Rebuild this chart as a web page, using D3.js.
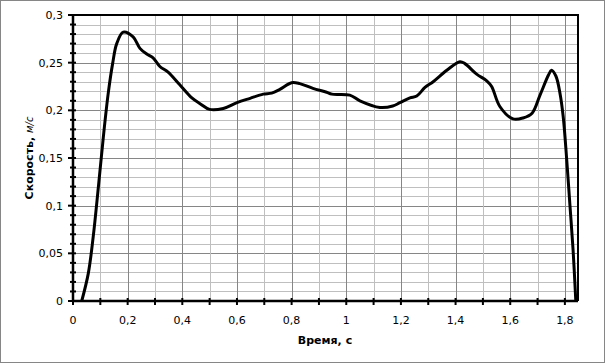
<!DOCTYPE html>
<html>
<head>
<meta charset="utf-8">
<script src="https://cdn.jsdelivr.net/npm/d3@7"></script>
<style>
  body { margin: 0; background: #fff; }
  text { font-family: "DejaVu Sans", Verdana, sans-serif; font-size: 11px; fill: #000; }
</style>
</head>
<body>
<svg id="chart" width="605" height="363"></svg>
<script>
// time, s
const times = [0.032, 0.056, 0.074, 0.093, 0.111, 0.129, 0.145, 0.16, 0.184, 0.22, 0.245, 0.27, 0.293, 0.318,
  0.348, 0.39, 0.435, 0.465, 0.5, 0.55, 0.6, 0.648, 0.696, 0.727, 0.757, 0.8, 0.83, 0.878, 0.928, 0.947,
  1.013, 1.05, 1.123, 1.17, 1.196, 1.233, 1.258, 1.288, 1.318, 1.368, 1.416, 1.434, 1.477, 1.514, 1.532,
  1.562, 1.61, 1.647, 1.68, 1.709, 1.74, 1.751, 1.767, 1.782, 1.794, 1.806, 1.818, 1.83, 1.84];
// speed, m/s
const speeds = [0, 0.029, 0.0675, 0.12, 0.172, 0.218, 0.249, 0.27, 0.282, 0.277, 0.265, 0.259, 0.255, 0.246,
  0.24, 0.227, 0.213, 0.207, 0.201, 0.202, 0.208, 0.2126, 0.217, 0.218, 0.222, 0.229, 0.228, 0.223, 0.219, 0.217,
  0.216, 0.21, 0.203, 0.2045, 0.208, 0.213, 0.215, 0.224, 0.23, 0.242, 0.251, 0.249, 0.238, 0.231, 0.225,
  0.204, 0.191, 0.192, 0.197, 0.216, 0.237, 0.242, 0.236, 0.218, 0.193, 0.151, 0.1025, 0.0535, 0];

const xTicks = [0, 0.2, 0.4, 0.6, 0.8, 1, 1.2, 1.4, 1.6, 1.8];
const yTicks = [0, 0.05, 0.1, 0.15, 0.2, 0.25, 0.3];

const data = times.map((t, i) => ({ t, v: speeds[i] }));

const svg = d3.select("#chart");
const plotL = 73, plotR = 578, plotT = 15, plotB = 301;

const x = d3.scaleLinear().domain([0, 1.848]).range([plotL, plotR]);
const y = d3.scaleLinear().domain([0, 0.3]).range([plotB, plotT]);

const ru = d3.formatLocale({ decimal: ",", thousands: " ", grouping: [3], currency: ["", ""] });
const fmt = v => ru.format("~g")(+v.toFixed(3));

// outer frame
svg.append("rect")
  .attr("x", 0.5).attr("y", 0.5).attr("width", 604).attr("height", 362)
  .attr("fill", "#fff").attr("stroke", "#868686");

// grid
const grid = svg.append("g");
d3.range(1, 30).forEach(i => {
  const v = i / 100;
  grid.append("line")
    .attr("x1", plotL).attr("x2", plotR)
    .attr("y1", Math.round(y(v)) + 0.5).attr("y2", Math.round(y(v)) + 0.5)
    .attr("stroke", i % 5 === 0 ? "#868686" : "#bfbfbf");
});
d3.range(1, 19).forEach(i => {
  const t = i / 10;
  grid.append("line")
    .attr("x1", Math.round(x(t)) + 0.5).attr("x2", Math.round(x(t)) + 0.5)
    .attr("y1", plotT).attr("y2", plotB)
    .attr("stroke", i % 2 === 0 ? "#868686" : "#bfbfbf");
});

// plot border top/right
svg.append("path")
  .attr("d", `M${plotL},${plotT}H${plotR}V${plotB}`)
  .attr("fill", "none").attr("stroke", "#000").attr("stroke-width", 2);

// y axis with cross ticks
const yAxis = svg.append("g");
yAxis.append("line").attr("x1", plotL).attr("x2", plotL).attr("y1", plotT).attr("y2", plotB)
  .attr("stroke", "#000").attr("stroke-width", 2.5);
d3.range(0, 31).forEach(i => {
  const yy = y(i / 100);
  const major = i % 5 === 0;
  yAxis.append("line")
    .attr("x1", major ? plotL - 5 : plotL - 3).attr("x2", plotL + 3)
    .attr("y1", yy).attr("y2", yy)
    .attr("stroke", "#000").attr("stroke-width", 2);
});
yAxis.selectAll("text").data(yTicks).join("text")
  .attr("x", 63).attr("y", d => y(d) + 4)
  .attr("text-anchor", "end")
  .text(fmt);

// x axis
const xAxis = svg.append("g");
xAxis.append("line").attr("x1", plotL).attr("x2", plotR).attr("y1", plotB).attr("y2", plotB)
  .attr("stroke", "#000").attr("stroke-width", 2.5);
d3.range(0, 19).forEach(i => {
  const xx = x(i / 10);
  xAxis.append("line")
    .attr("x1", xx).attr("x2", xx)
    .attr("y1", plotB - 3).attr("y2", plotB + 4)
    .attr("stroke", "#000").attr("stroke-width", 2);
});
xAxis.selectAll("text").data(xTicks).join("text")
  .attr("x", d => x(d)).attr("y", 324)
  .attr("text-anchor", "middle")
  .text(fmt);

// axis titles
svg.append("text")
  .attr("x", 325).attr("y", 344)
  .attr("text-anchor", "middle")
  .style("font-weight", "bold")
  .text("Время, с");

const yt = svg.append("text")
  .attr("transform", "translate(33,158) rotate(-90)")
  .attr("text-anchor", "middle")
  .style("font-weight", "bold");
yt.append("tspan").text("Скорость, ");
yt.append("tspan").style("font-weight", "normal").style("font-style", "italic").style("font-size", "10px").text("м/с");

// curve
const line = d3.line()
  .x(d => x(d.t)).y(d => y(d.v))
  .curve(d3.curveCatmullRom.alpha(0.5));

svg.append("path")
  .datum(data)
  .attr("d", line)
  .attr("fill", "none")
  .attr("stroke", "#000")
  .attr("stroke-width", 3)
  .attr("stroke-linejoin", "round");
</script>
</body>
</html>
